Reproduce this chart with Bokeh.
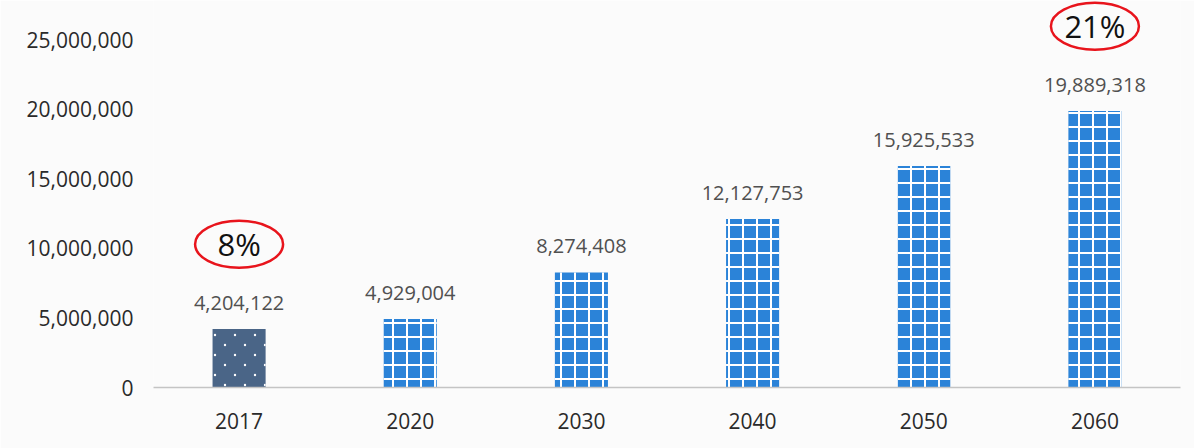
import base64
from bokeh.plotting import figure
from bokeh.models import (ColumnDataSource, NumeralTickFormatter, Range1d, FactorRange,
                          ImageURLTexture)
from bokeh.core.properties import value
from bokeh.embed import file_html
from bokeh.resources import INLINE

years = ["2017", "2020", "2030", "2040", "2050", "2060"]
population = [4204122, 4929004, 8274408, 12127753, 15925533, 19889318]
bar_colors = ["#4a6587", "#2b83d8", "#2b83d8", "#2b83d8", "#2b83d8", "#2b83d8"]
bar_patterns = ["dots", "grid", "grid", "grid", "grid", "grid"]
pct_years = ["2017", "2060"]
pct_labels = ["8%", "21%"]

FONT = "Open Sans"


def svg_url(svg):
    return "data:image/svg+xml;base64," + base64.b64encode(svg.encode()).decode()


grid_svg = ("<svg xmlns='http://www.w3.org/2000/svg' width='14' height='14'>"
            "<rect x='0' y='0' width='2' height='14' fill='white'/>"
            "<rect x='0' y='0' width='14' height='2' fill='white'/></svg>")
dots_svg = ("<svg xmlns='http://www.w3.org/2000/svg' width='20' height='20'>"
            "<circle cx='5' cy='5' r='1.2' fill='white'/>"
            "<circle cx='15' cy='15' r='1.2' fill='white'/></svg>")

textures = {
    "grid": ImageURLTexture(url=svg_url(grid_svg), repetition="repeat"),
    "dots": ImageURLTexture(url=svg_url(dots_svg), repetition="repeat"),
}

src = ColumnDataSource(dict(
    year=years,
    pop=population,
    label=[f"{v:,}" for v in population],
    color=bar_colors,
    pattern=bar_patterns,
))

pct_pop = [population[years.index(y)] for y in pct_years]
pct_src = ColumnDataSource(dict(
    year=pct_years,
    y=[v + 6.1e6 for v in pct_pop],
    label=pct_labels,
))

p = figure(
    x_range=FactorRange(*years, range_padding=0),
    y_range=Range1d(0, 27.84e6),
    width=1194, height=448,
    output_backend="svg", toolbar_location=None,
    min_border_left=153, min_border_right=14, min_border_top=0, min_border_bottom=61,
    background_fill_color="#fbfbfb", border_fill_color="#fbfbfb",
)
p.outline_line_color = None
p.grid.grid_line_color = None

p.vbar(x="year", top="pop", width=0.31, source=src, fill_color="color",
       line_color=None, hatch_pattern="pattern", hatch_extra=textures)

p.text(x="year", y="pop", text="label", source=src, text_align="center",
       text_baseline="bottom", y_offset=-19, text_font=value(FONT),
       text_font_size="20px", text_color="#505050")

p.ellipse(x="year", y="y", width=88, height=47, width_units="screen",
          height_units="screen", source=pct_src, fill_color=None,
          line_color="#e8141c", line_width=2.5)
p.text(x="year", y="y", text="label", source=pct_src, text_align="center",
       text_baseline="middle", text_font=value(FONT), text_font_size="31px",
       text_color="#111111")

p.yaxis.ticker = [0, 5e6, 10e6, 15e6, 20e6, 25e6]
p.yaxis.formatter = NumeralTickFormatter(format="0,0")
p.yaxis.axis_line_color = None
p.yaxis.major_tick_line_color = None
p.yaxis.minor_tick_line_color = None
p.yaxis.major_label_standoff = 14
p.yaxis.major_label_text_font = FONT
p.yaxis.major_label_text_font_size = "21px"
p.yaxis.major_label_text_color = "#2a2a2a"

p.xaxis.axis_line_color = "#c4c4c4"
p.xaxis.axis_line_width = 1.5
p.xaxis.major_tick_line_color = None
p.xaxis.minor_tick_line_color = None
p.xaxis.major_label_standoff = 19
p.xaxis.major_label_text_font = FONT
p.xaxis.major_label_text_font_size = "21px"
p.xaxis.major_label_text_color = "#2a2a2a"

open("out.html", "w").write(file_html(p, INLINE))
